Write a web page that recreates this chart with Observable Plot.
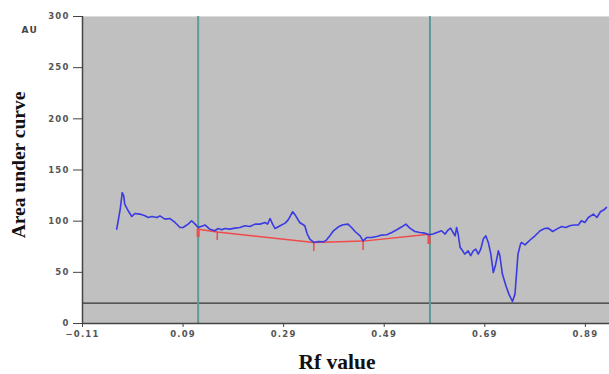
<!DOCTYPE html>
<html>
<head>
<meta charset="utf-8">
<script src="https://cdn.jsdelivr.net/npm/d3@7"></script>
<script src="https://cdn.jsdelivr.net/npm/@observablehq/plot@0.6"></script>
<style>
  html, body { margin: 0; padding: 0; background: #fff; }
  #chart svg { display: block; }
</style>
</head>
<body>
<div id="chart"></div>
<script>
// Densitogram trace (Rf, AU)
const rf = [-0.042,-0.039,-0.035,-0.031,-0.028,-0.026,-0.021,-0.017,-0.012,-0.006,0.004,0.014,0.021,0.028,0.038,0.044,0.054,0.064,0.074,0.084,0.090,0.100,0.107,0.114,0.120,0.130,0.134,0.143,0.153,0.160,0.167,0.173,0.183,0.193,0.203,0.213,0.223,0.233,0.243,0.253,0.258,0.263,0.268,0.273,0.283,0.293,0.299,0.308,0.314,0.322,0.332,0.337,0.342,0.350,0.359,0.369,0.375,0.382,0.389,0.399,0.408,0.418,0.425,0.432,0.442,0.448,0.455,0.465,0.475,0.485,0.495,0.505,0.515,0.525,0.533,0.541,0.551,0.561,0.571,0.579,0.587,0.595,0.604,0.611,0.617,0.622,0.627,0.631,0.634,0.637,0.641,0.646,0.650,0.657,0.662,0.667,0.672,0.677,0.682,0.687,0.692,0.697,0.702,0.707,0.711,0.717,0.720,0.725,0.732,0.738,0.745,0.750,0.753,0.756,0.761,0.763,0.770,0.780,0.790,0.800,0.809,0.816,0.825,0.833,0.843,0.851,0.859,0.867,0.876,0.882,0.889,0.896,0.906,0.913,0.920,0.927,0.932];
const au = [92.2,100.4,111.8,128.0,124.8,116.7,111.8,108.5,104.6,107.5,106.9,105.2,103.6,104.6,103.6,105.2,102.0,102.6,98.7,93.8,93.8,97.1,100.4,97.1,93.8,95.5,96.2,92.2,90.6,92.8,91.6,92.8,92.2,93.2,93.8,95.5,94.8,97.1,97.1,98.7,97.1,102.6,97.1,92.8,95.5,98.1,101.3,109.2,105.2,98.7,95.5,87.4,82.5,79.2,80.1,79.8,81.5,85.7,90.6,94.5,96.5,97.1,93.8,89.9,85.7,80.8,84.0,84.0,85.0,86.4,86.7,88.9,91.6,94.5,97.1,93.2,89.9,88.9,88.3,86.7,87.4,88.9,90.6,87.4,91.3,93.2,88.9,85.7,93.8,87.4,74.3,71.0,67.8,71.0,66.2,71.0,72.7,67.8,72.7,82.5,85.7,79.2,67.8,49.8,56.4,71.0,66.2,48.3,36.8,28.7,21.5,28.7,48.3,67.8,77.6,79.2,76.9,81.6,85.7,90.6,92.8,93.2,89.9,92.2,94.8,93.8,95.5,96.2,96.2,100.4,98.7,103.6,106.9,103.6,109.2,111.1,113.4];

// Integration baseline (red) and its peak-boundary ticks
const baseRf = [0.120, 0.158, 0.350, 0.448, 0.579];
const baseAu = [92.2, 89.4, 79.2, 80.5, 87.2];
const tickLow = [84.0, 81.0, 70.4, 71.3, 77.2];

// Track markers (teal vertical lines) and threshold line
const markerRf = [0.120, 0.581];
const threshold = [20];

// Axis ticks
const xTicks = [-0.11, 0.09, 0.29, 0.49, 0.69, 0.89];
const yTicks = [0, 50, 100, 150, 200, 250, 300];

const trace = rf.map((x, i) => ({x, y: au[i]}));
const base = baseRf.map((x, i) => ({x, y: baseAu[i], lo: tickLow[i], i}));

const plot = Plot.plot({
  width: 609,
  height: 374,
  marginLeft: 82,
  marginRight: 0,
  marginTop: 16,
  marginBottom: 51,
  style: {fontFamily: "DejaVu Sans", fontSize: "8.5px", letterSpacing: "1.2px", background: "#fff"},
  x: {domain: [-0.11, 0.938], ticks: xTicks, tickFormat: d3.format(".2f"), label: null},
  y: {domain: [0, 300], ticks: yTicks, label: null},
  marks: [
    Plot.frame({fill: "#c0c0c0", stroke: null}),
    Plot.ruleY([300], {stroke: "#dcdcdc", strokeWidth: 1}),
    Plot.ruleY(threshold, {stroke: "#333", strokeWidth: 1.2}),
    Plot.ruleX(markerRf, {stroke: "#5f9a9a", strokeWidth: 2}),
    Plot.line(base, {x: "x", y: "y", stroke: "#f04a4a", strokeWidth: 1.5}),
    Plot.ruleX(base, {x: "x", y1: "y", y2: "lo", stroke: "#f04a4a",
      strokeWidth: d => (d.i === 0 || d.i === base.length - 1) ? 3 : 1.5}),
    Plot.line(trace, {x: "x", y: "y", stroke: "#3a3ae4", strokeWidth: 1.6}),
    Plot.ruleX([-0.11], {stroke: "#444", strokeWidth: 1.5}),
    Plot.ruleY([0], {stroke: "#444", strokeWidth: 1.5}),
    Plot.axisY({ticks: yTicks, tickSize: 9, tickPadding: 4, stroke: "#444", fill: "#555", fontWeight: "bold", label: null}),
    Plot.axisX({ticks: xTicks, tickFormat: d3.format(".2f"), tickSize: 4, tickPadding: 3, stroke: "#444", fill: "#555", fontWeight: "bold", label: null}),
    Plot.text(["AU"], {frameAnchor: "top-left", dx: -61, dy: 10, fill: "#444", fontSize: 9, fontWeight: "bold"}),
    Plot.text(["Area under curve"], {frameAnchor: "left", dx: -64, dy: -5, rotate: -90,
      fontFamily: "Liberation Serif", fontWeight: "bold", fontSize: 19.5, fill: "#111", textAnchor: "middle", style: "letter-spacing:0"}),
    Plot.text(["Rf value"], {frameAnchor: "bottom", dx: -9, dy: 45,
      fontFamily: "Liberation Serif", fontWeight: "bold", fontSize: 21.5, fill: "#111", textAnchor: "middle"})
  ]
});
plot.querySelectorAll("text").forEach(t => {
  if (t.getAttribute("font-family") === "Liberation Serif" || (t.parentNode && t.parentNode.getAttribute && t.parentNode.getAttribute("font-family") === "Liberation Serif")) t.style.letterSpacing = "0px";
});
document.getElementById("chart").append(plot);
</script>
</body>
</html>
